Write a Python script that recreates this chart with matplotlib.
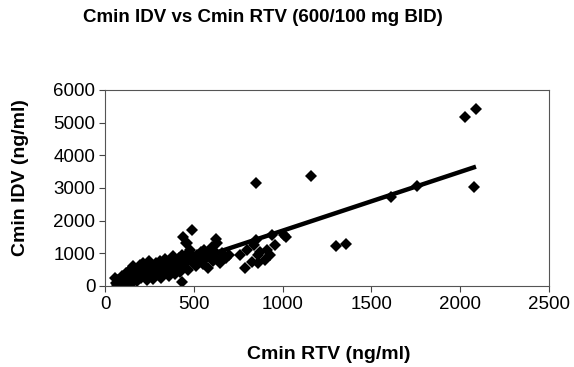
import numpy as np
import matplotlib
matplotlib.use('Agg')
import matplotlib.pyplot as plt

# Cmin RTV (ng/ml) and Cmin IDV (ng/ml)
rtv = [55, 60, 68, 75, 85, 95, 105, 110, 120, 125, 135, 140, 145, 150, 155, 160,
       165, 175, 180, 185, 190, 195,
       205, 210, 215, 220, 230, 235, 240, 245, 250, 260, 265, 270, 280, 285, 290, 300,
       305, 310, 315, 320, 330, 335, 340, 350, 355, 360, 370, 375, 380, 385, 390, 395,
       400, 405, 410, 415, 420, 425, 430, 435, 435, 440, 445, 450, 455, 460, 465, 470,
       478, 490, 495, 500, 510, 520, 530, 540, 550, 560, 570, 580, 590, 600, 610, 620,
       625, 630, 640, 650, 660, 680, 700,
       760, 790, 800, 830, 840, 850, 860, 860, 875, 900, 910, 930, 940, 955, 1010, 1020,
       850, 1160, 1300, 1360, 1610, 1760, 2030, 2080, 2090]
idv = [240, 100, 30, 180, 120, 300, 210, 60, 380, 150, 450, 280, 520, 90, 350, 600,
       230, 420, 150, 500, 320, 650,
       250, 450, 700, 380, 560, 180, 480, 750, 300, 620, 420, 200, 530, 700, 350, 600,
       450, 750, 250, 550, 680, 380, 820, 500, 620, 300, 720, 450, 560, 900, 650, 350,
       780, 500, 620, 860, 420, 700, 560, 950, 120, 1500, 650, 820, 1300, 1320, 500, 1000,
       1100, 1700, 700, 880, 600, 950, 780, 1050, 680, 1100, 850, 550, 980, 1200, 760, 1050,
       1450, 1300, 900, 700, 1000, 850, 950,
       950, 550, 1100, 730, 1250, 1400, 700, 950, 1050, 780, 1100, 950, 1550, 1250, 1550, 1500,
       3150, 3360, 1220, 1290, 2720, 3050, 5170, 3030, 5410]

# linear trendline, end points
trend_x = [55, 2090]
trend_y = [-10, 3650]

xticks = [0, 500, 1000, 1500, 2000, 2500]
yticks = [0, 1000, 2000, 3000, 4000, 5000, 6000]


def main():
    plt.rcParams['font.family'] = ['Liberation Sans', 'DejaVu Sans']

    fig = plt.figure(figsize=(5.74, 3.67), dpi=100)
    ax = fig.add_axes([0.183, 0.221, 0.773, 0.534])

    ax.plot(rtv, idv, linestyle='none', marker='D', markersize=6,
            color='black', markeredgewidth=0)
    ax.plot(trend_x, trend_y, color='black', linewidth=3.2, solid_capstyle='butt')

    ax.set_xlim(0, 2500)
    ax.set_ylim(0, 6000)
    ax.set_xticks(xticks)
    ax.set_yticks(yticks)
    ax.set_xticklabels([str(t) for t in xticks], fontsize=13.5)
    ax.set_yticklabels([str(t) for t in yticks], fontsize=13.5)
    ax.tick_params(direction='out', length=4, width=0.8, color='#444444', pad=3)

    for s in ax.spines.values():
        s.set_color('#555555')
        s.set_linewidth(0.8)

    fig.text(0.573, 0.033, 'Cmin RTV (ng/ml)', fontsize=14, fontweight='bold',
             ha='center', va='center')
    fig.text(0.035, 0.517, 'Cmin IDV (ng/ml)', fontsize=14, fontweight='bold',
             ha='center', va='center', rotation=90)
    fig.text(0.458, 0.953, 'Cmin IDV vs Cmin RTV (600/100 mg BID)', fontsize=13.5,
             fontweight='bold', ha='center', va='center')

    plt.savefig('out.png', dpi=100)


if __name__ == '__main__':
    main()
